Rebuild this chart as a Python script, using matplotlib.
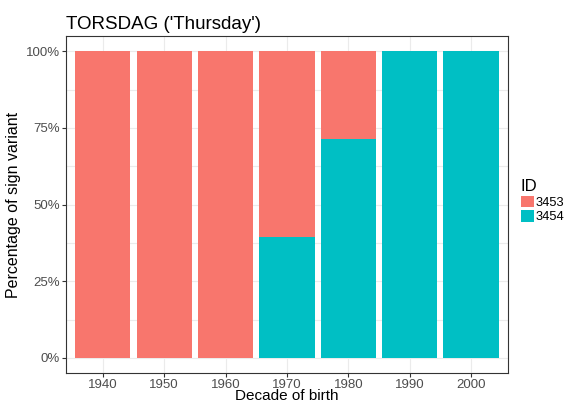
import numpy as np
import matplotlib.pyplot as plt
from matplotlib.patches import Patch

plt.rcParams['font.family'] = ['Liberation Sans', 'DejaVu Sans']

decades = ['1940', '1950', '1960', '1970', '1980', '1990', '2000']
share_3454 = [0.0, 0.0, 0.0, 0.395, 0.715, 1.0, 1.0]
share_3453 = [1 - v for v in share_3454]
ids = ['3453', '3454']
colors = ['#F8766D', '#00BFC4']

fig = plt.figure(figsize=(5.65, 4.03), dpi=100)
ax = fig.add_axes([0.1168, 0.0740, 0.7822, 0.8367])

x = np.arange(len(decades))
ax.bar(x, share_3454, width=0.9, color=colors[1], zorder=2)
ax.bar(x, share_3453, width=0.9, bottom=share_3454, color=colors[0], zorder=2)

ax.set_xlim(-0.6, len(decades) - 0.4)
ax.set_ylim(-0.05, 1.05)
ax.set_xticks(x)
ax.set_xticklabels(decades)
ax.set_yticks([0, 0.25, 0.5, 0.75, 1.0])
ax.set_yticklabels(['0%', '25%', '50%', '75%', '100%'])
ax.set_yticks([0.125, 0.375, 0.625, 0.875], minor=True)
ax.grid(True, which='both', color='#EBEBEB', linewidth=0.8, zorder=0)
ax.tick_params(axis='both', which='major', labelsize=9.5, labelcolor='#4D4D4D',
               color='#333333', length=3, width=0.8, pad=1.5)
ax.tick_params(axis='x', which='major', pad=1)
ax.tick_params(axis='y', which='minor', length=0)
for s in ax.spines.values():
    s.set_color('#333333')
    s.set_linewidth(0.8)

ax.set_xlabel('Decade of birth', fontsize=11, labelpad=-1)
ax.set_ylabel('Percentage of sign variant', fontsize=11.5, labelpad=3)
ax.set_title("TORSDAG ('Thursday')", fontsize=13.5, loc='left', pad=5)

handles = [Patch(facecolor=c, label=l) for c, l in zip(colors, ids)]
leg = fig.legend(handles=handles, title='ID', loc='upper left',
                 bbox_to_anchor=(0.922, 0.555), frameon=False, fontsize=9.3,
                 title_fontsize=12, handlelength=1.0, handleheight=1.0,
                 handletextpad=0.1, labelspacing=0.1, borderaxespad=0,
                 borderpad=0)
leg._legend_box.align = 'left'

fig.savefig('out.png', dpi=100)
